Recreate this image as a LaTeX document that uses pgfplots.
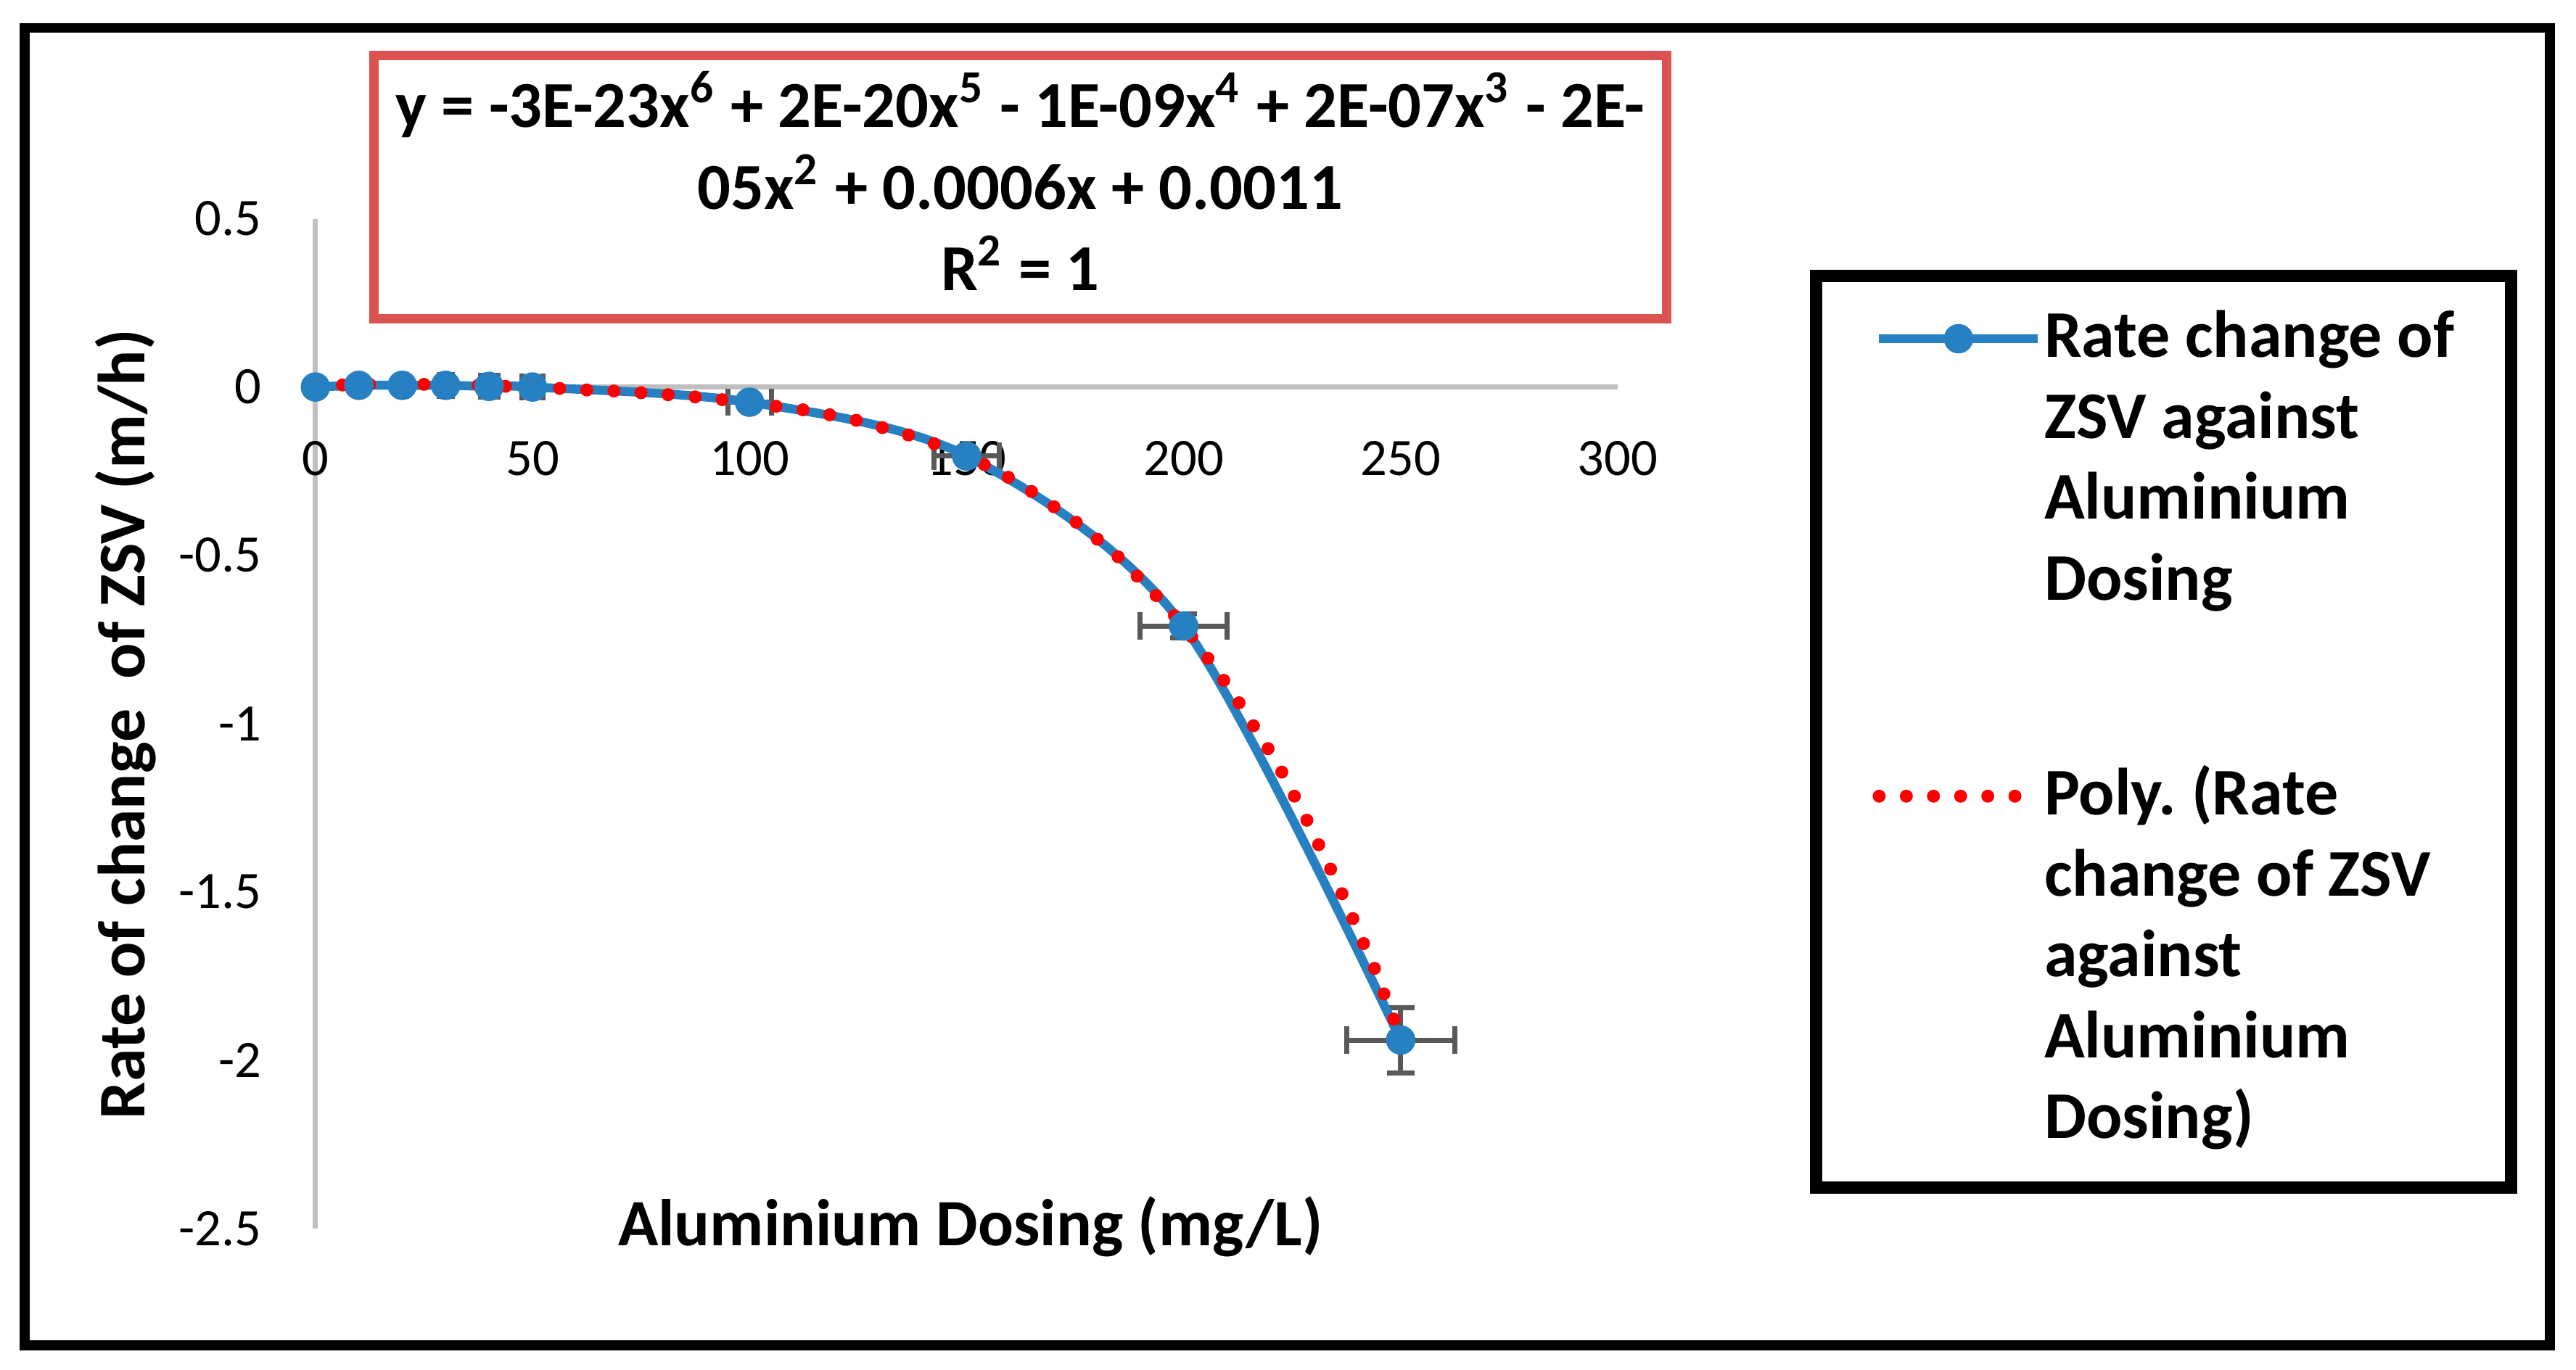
\documentclass[border=0pt]{standalone}
\usepackage{pgfplots}
\pgfplotsset{compat=1.18}
\usepackage{fontspec}
\setmainfont{Carlito}
\frenchspacing

\definecolor{zsvblue}{RGB}{38,128,193}
\definecolor{errgray}{RGB}{89,89,89}
\definecolor{axgray}{RGB}{191,191,191}
\definecolor{eqred}{RGB}{220,82,80}

\pgfplotsset{
  marklegend/.style={legend image code/.code={
      \draw[##1, mark repeat=2, mark phase=2]
        plot coordinates {(0cm,3.3pt) (0.493cm,3.3pt) (0.986cm,3.3pt)};}},
  dotlegend/.style={legend image code/.code={
      \draw[##1] (0cm,3.3pt) -- (0.986cm,3.3pt);}},
}

% measured points, with 5 % error in x and y
\pgfplotstableread{
x     y       ex    ey
0     0       0     0
10    0.005   0.5   0.0003
20    0.005   1     0.0003
30    0.005   1.5   0.0003
40    0.002   2     0.0001
50    0       2.5   0
100   -0.045  5     0.0023
150   -0.205  7.5   0.0103
200   -0.71   10    0.0355
250   -1.94   12.5  0.097
}\zsvdata

\begin{document}
\begin{tikzpicture}
  \begin{axis}[
      at={(0,0)}, anchor=south west,
      scale only axis,
      width=8.092cm, height=6.276cm,
      xmin=0, xmax=300, ymin=-2.5, ymax=0.5,
      axis lines=middle,
      axis line style={-, draw=axgray, line width=0.9pt},
      hide obscured x ticks=false, hide obscured y ticks=false,
      xtick={0,50,...,300},
      ytick={-2.5,-2,...,0.5},
      major tick length=0pt,
      clip=false,
      /pgf/number format/assume math mode=true,
      ticklabel style={font=\fontsize{9.3}{11}\selectfont},
      xticklabel style={yshift=-6pt},
      yticklabel style={xshift=-6pt, /pgf/number format/fixed},
      legend style={
          at={(axis description cs:1.1475,0.9496)}, anchor=north west,
          draw=black, line width=2.2pt, fill=white,
          font=\bfseries\fontsize{11.8}{14.3}\selectfont,
          inner xsep=10pt, inner ysep=4.4pt,
          row sep=23.7pt, column sep=0pt,
          cells={anchor=base west},
          nodes={inner sep=0pt, text depth=},
        },
    ]

    % error bars first, so the markers sit on top of them
    \addplot[
        draw=none, mark=none, forget plot,
        error bars/.cd,
        x dir=both, x explicit, y dir=both, y explicit,
        error bar style={line width=0.9pt, draw=errgray, solid},
        error mark options={line width=0.9pt, draw=errgray, mark size=2.4pt, rotate=90},
      ] table[x=x, y=y, x error=ex, y error=ey] {\zsvdata};

    \addplot[
        color=zsvblue, line width=1.6pt, smooth,
        mark=*, mark size=2.4pt,
        mark options={solid, fill=zsvblue, line width=0.4pt},
        marklegend,
      ] table[x=x, y=y] {\zsvdata};
    \addlegendentry{\begin{tabular}[t]{@{}l@{}}Rate change of\\ZSV against\\Aluminium\\Dosing\end{tabular}}

    % 6th order polynomial trendline
    \addplot[
        color=red, line width=2.3pt, smooth, line cap=round,
        dash pattern=on 0pt off 4.8pt,
        dotlegend,
      ] coordinates {
        (0,0.002) (6,0.006) (12.6,0.008) (19,0.008) (25,0.008) (31,0.007)
        (38,0.005) (44,0.002) (50,0.0) (56,-0.004) (63,-0.009) (69,-0.012)
        (75,-0.017) (81.5,-0.023) (88,-0.030) (94,-0.038) (100,-0.047)
        (106,-0.057) (112.5,-0.068) (118.7,-0.083) (125,-0.100) (131,-0.122)
        (137,-0.144) (142.7,-0.169) (148.3,-0.198) (154,-0.23) (160,-0.271)
        (165.3,-0.313) (170.5,-0.359) (175.5,-0.404) (180.4,-0.455)
        (185.2,-0.508) (189.6,-0.566) (194,-0.624) (198.2,-0.684)
        (202.2,-0.747) (206,-0.813) (209.6,-0.878) (213.1,-0.945)
        (216.4,-1.013) (219.8,-1.082) (222.9,-1.151) (225.8,-1.223)
        (228.7,-1.295) (231.4,-1.368) (234.1,-1.439) (236.7,-1.512)
        (239.2,-1.586) (241.7,-1.661) (244.2,-1.735) (246.4,-1.812)
        (248.7,-1.887) (250,-1.93)
      };
    \addlegendentry{\begin{tabular}[t]{@{}l@{}}Poly. (Rate\\change of ZSV\\against\\Aluminium\\Dosing)\end{tabular}}

    \node[anchor=base, font=\bfseries\fontsize{11.7}{14}\selectfont]
      at (axis description cs:0.503,-0.0171) {Aluminium Dosing (mg/L)};
    \node[anchor=base, rotate=90, font=\bfseries\fontsize{11.8}{14}\selectfont]
      at (axis description cs:-0.1311,0.4995) {Rate of change\ \ of ZSV (m/h)};
  \end{axis}

  % frame, trendline label box; units are pixels of a 1568 px wide copy
  \begin{scope}[x=0.010204cm, y=-0.010204cm, shift={(-192,-748)}]
    \draw[line width=1.75pt] (15,17) rectangle (1552,819);
    \draw[eqred, line width=1.7pt] (227.5,33.7) rectangle (1014.5,194);
    \begin{scope}[every node/.style={anchor=base, inner sep=0pt,
        font=\bfseries\fontsize{11.6}{14.4}\selectfont}]
      \node at (621,77.6) {y = -3E-23x\textsuperscript{6} + 2E-20x\textsuperscript{5} - 1E-09x\textsuperscript{4} + 2E-07x\textsuperscript{3} - 2E-};
      \node at (621,127.3) {05x\textsuperscript{2} + 0.0006x + 0.0011};
      \node at (621,177) {R\textsuperscript{2} = 1};
    \end{scope}
    \pgfresetboundingbox
    \path (0,0) rectangle (1568,834);
  \end{scope}
\end{tikzpicture}
\end{document}
